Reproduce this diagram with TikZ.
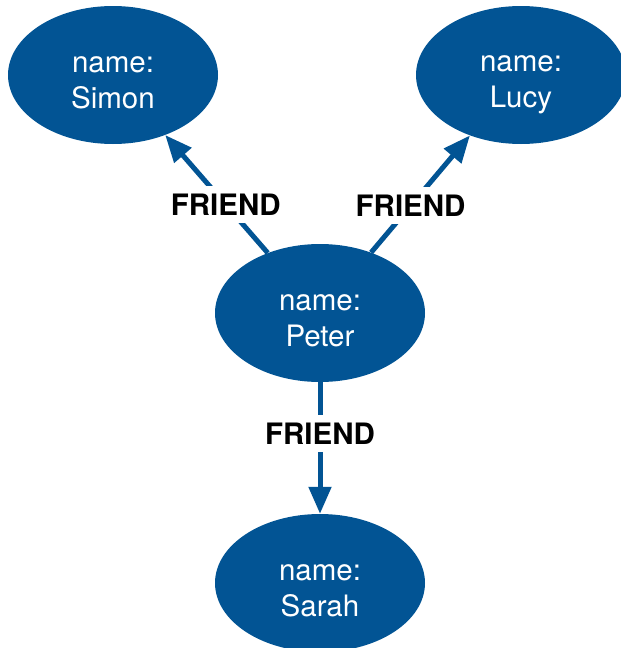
\documentclass[tikz,border=0pt]{standalone}
\usepackage{fontspec}
\setmainfont{TeX Gyre Heros}
\usetikzlibrary{shapes.geometric,arrows.meta}
\definecolor{nodeblue}{RGB}{2,84,148}
% two-line node text, pushed down a little inside the ellipse
\newcommand{\pname}[1]{\rule{0pt}{35pt}name:\\#1\rule[-5pt]{0pt}{5pt}}
\tikzset{
  person/.style={ellipse, fill=nodeblue, text=white, minimum width=210pt,
    minimum height=138pt, inner sep=0pt, align=center,
    font=\fontsize{29.5}{36}\selectfont},
  rel/.style={draw=nodeblue, line width=5pt, -{Triangle[length=27pt,width=22pt]}},
  rellabel/.style={fill=white, inner sep=8pt, text=black,
    font=\fontsize{29.5}{32}\selectfont\bfseries}
}
\begin{document}
\begin{tikzpicture}[x=1pt, y=-1pt]
\useasboundingbox (0,0) rectangle (621,648);
\node[person] (simon) at (113,75) {\pname{Simon}};
\node[person] (lucy) at (521,75) {\pname{Lucy}};
\node[person] (peter) at (320,313) {\pname{Peter}};
\node[person] (sarah) at (320,583) {\pname{Sarah}};

\draw[rel] (peter) -- node[rellabel, pos=0.41] (f1) {FRIEND} (simon);
\draw[rel] (peter) -- node[rellabel, pos=0.4] (f2) {FRIEND} (lucy);
\draw[rel] (peter) -- node[rellabel, pos=0.39] (f3) {FRIEND} (sarah);
\end{tikzpicture}
\end{document}
